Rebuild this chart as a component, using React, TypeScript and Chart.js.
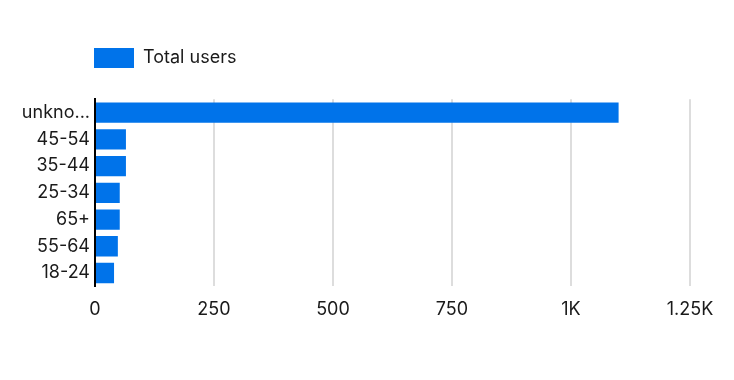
import React, { useEffect, useRef } from "react";
import { Chart, registerables } from "chart.js";

Chart.register(...registerables);

const categories = ["unknown", "45-54", "35-44", "25-34", "65+", "55-64", "18-24"];
const totalUsers = [1100, 65, 65, 52, 52, 48, 40];
const seriesLabel = "Total users";
const xTicks = [0, 250, 500, 750, 1000, 1250];

const FONT = "Inter, 'Open Sans', sans-serif";

const legendShift = {
  id: "legendShift",
  afterLayout(chart: any) {
    const lg = chart.legend;
    if (lg) {
      const pad = lg.options.labels.padding || 10;
      lg.left = chart.chartArea.left - 1 - pad;
    }
  },
};

function fmtTick(v: number) {
  if (v >= 1000) {
    return (v / 1000).toString() + "K";
  }
  return String(v);
}

export default function App() {
  const ref = useRef<HTMLCanvasElement | null>(null);
  useEffect(() => {
    if (!ref.current) return;
    const chart = new Chart(ref.current, {
      type: "bar",
      data: {
        labels: categories,
        datasets: [
          {
            label: seriesLabel,
            data: totalUsers,
            backgroundColor: "#0073ea",
            borderWidth: 0,
            barPercentage: 0.8,
            categoryPercentage: 0.95,
          },
        ],
      },
      options: {
        indexAxis: "y",
        animation: false,
        responsive: false,
        maintainAspectRatio: false,
        layout: { padding: { top: 38, left: 0, right: 44, bottom: 48 } },
        plugins: {
          legend: {
            display: true,
            position: "top",
            align: "start",
            labels: {
              boxWidth: 40,
              boxHeight: 20,
              padding: 10,
              color: "#1a1a1a",
              font: { family: FONT, size: 18 },
            },
          },
          subtitle: {
            display: true,
            text: "",
            weight: 500,
            font: { size: 1 },
            padding: { top: 0, bottom: 20 },
          } as any,
          tooltip: { enabled: false },
        },
        scales: {
          x: {
            type: "linear",
            min: 0,
            max: 1250,
            afterBuildTicks: (scale: any) => {
              scale.ticks = xTicks.map((v) => ({ value: v }));
            },
            grid: {
              color: (ctx: any) => (ctx.tick && ctx.tick.value === 0 ? "rgba(0,0,0,0)" : "#dddddd"),
              lineWidth: 2,
              drawTicks: false,
            },
            border: { display: false },
            ticks: {
              color: "#1a1a1a",
              padding: 12,
              font: { family: FONT, size: 18 },
              maxRotation: 0,
              callback: (v: any) => fmtTick(Number(v)),
            },
          },
          y: {
            type: "category",
            afterFit: (scale: any) => {
              scale.width = 95;
            },
            grid: { display: false, drawTicks: false },
            border: { display: true, color: "#000", width: 2 },
            ticks: {
              color: "#1a1a1a",
              padding: 5,
              font: { family: FONT, size: 18 },
              callback: function (this: any, v: any) {
                const s = String(this.getLabelForValue(Number(v)));
                return s.length > 6 ? s.slice(0, 5) + "..." : s;
              },
            },
          },
        },
      },
      plugins: [legendShift],
    });
    return () => chart.destroy();
  }, []);
  return (
    <div style={{ position: "fixed", left: 0, top: 0, width: 734, height: 380 }}>
      <canvas ref={ref} width={734} height={380} style={{ width: 734, height: 380 }} />
    </div>
  );
}
